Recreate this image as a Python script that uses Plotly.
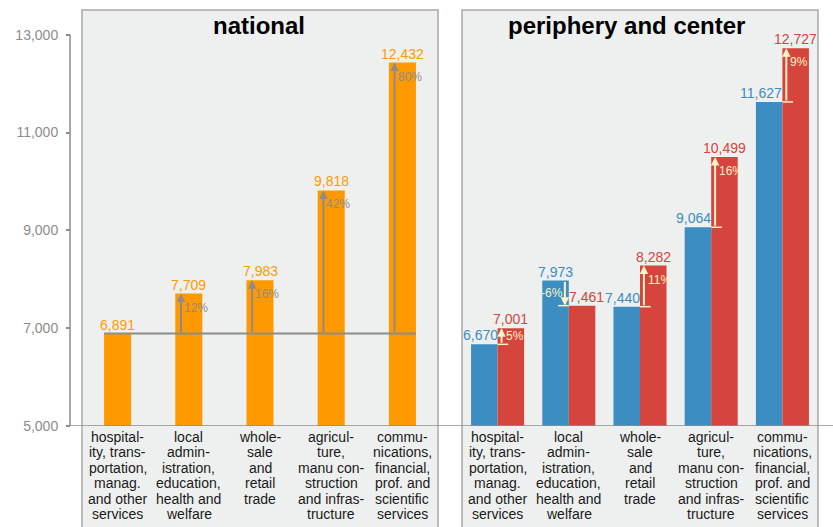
import plotly.graph_objects as go

# ---- data -------------------------------------------------------------
categories = [
    "hospitality, transportation, manag. and other services",
    "local administration, education, health and welfare",
    "wholesale and retail trade",
    "agriculture, manu construction and infrastructure",
    "communications, financial, prof. and scientific services",
]
category_lines = [
    ["hospital-", "ity, trans-", "portation,", "manag.", "and other", "services"],
    ["local", "admin-", "istration,", "education,", "health and", "welfare"],
    ["whole-", "sale", "and", "retail", "trade"],
    ["agricul-", "ture,", "manu con-", "struction", "and infras-", "tructure"],
    ["commu-", "nications,", "financial,", "prof. and", "scientific", "services"],
]
national = [6891, 7709, 7983, 9818, 12432]
periphery = [6670, 7973, 7440, 9064, 11627]
center = [7001, 7461, 8282, 10499, 12727]
y_ticks = [5000, 7000, 9000, 11000, 13000]
panel_titles = ["national", "periphery and center"]

# ---- style / layout constants ----------------------------------------
W, H = 833, 527
FONT = "Liberation Sans, Arial, sans-serif"
ORANGE = "#FF9900"
BLUE = "#3C8DC2"
RED = "#D5443D"
PANEL_BG = "#EEF0EF"
PANEL_LINE = "#A8A8A8"
AXIS_GRAY = "#8C8C8C"
CREAM = "#FFF2C4"

Y_MIN, Y_MAX = 5000, 13507
PLOT_TOP_PX, PLOT_BOTTOM_PX = 10, 426
PX_PER_UNIT = (PLOT_BOTTOM_PX - PLOT_TOP_PX) / (Y_MAX - Y_MIN)

LEFT_PANEL = (82, 438)
RIGHT_PANEL = (462, 818)
YAXIS_X = 70

NAT_WIDTH = 0.38
GROUP_GAP = 0.255
HALF = (1 - GROUP_GAP) / 4  # offset from group centre to each bar centre


def px_x(px):
    return px / W


def px_y(px):
    return (H - px) / H


fig = go.Figure()

fig.add_trace(go.Bar(
    x=categories, y=national, xaxis="x", yaxis="y",
    marker=dict(color=ORANGE, line=dict(width=0)), width=NAT_WIDTH,
    name="national", showlegend=False,
))
fig.add_trace(go.Bar(
    x=categories, y=periphery, xaxis="x2", yaxis="y",
    marker=dict(color=BLUE, line=dict(width=0)),
    name="periphery", showlegend=False,
))
fig.add_trace(go.Bar(
    x=categories, y=center, xaxis="x2", yaxis="y",
    marker=dict(color=RED, line=dict(width=0)),
    name="center", showlegend=False,
))

shapes = []
annotations = []

# panel backgrounds
for (x0, x1) in (LEFT_PANEL, RIGHT_PANEL):
    shapes.append(dict(
        type="rect", xref="paper", yref="paper",
        x0=px_x(x0), x1=px_x(x1), y0=-0.2, y1=px_y(PLOT_TOP_PX),
        fillcolor=PANEL_BG, line=dict(color=PANEL_LINE, width=1.5), layer="below",
    ))

# baseline across both panels and value-axis line
shapes.append(dict(
    type="line", xref="paper", yref="y", x0=px_x(YAXIS_X - 4), x1=1,
    y0=Y_MIN, y1=Y_MIN, line=dict(color=AXIS_GRAY, width=1.5), layer="above",
))
shapes.append(dict(
    type="line", xref="paper", yref="y", x0=px_x(YAXIS_X), x1=px_x(YAXIS_X),
    y0=y_ticks[0], y1=y_ticks[-1], line=dict(color=AXIS_GRAY, width=1.5),
))

# national: reference line at the first sector's value
base = national[0]
shapes.append(dict(
    type="line", xref="x", yref="y",
    x0=-NAT_WIDTH / 2, x1=len(categories) - 1 + NAT_WIDTH / 2,
    y0=base, y1=base, line=dict(color=AXIS_GRAY, width=2), layer="above",
))

label_font = dict(family=FONT, size=14)
pct_font = dict(family=FONT, size=12)


def pct_label_y(top, bottom):
    drop = min(14, (top - bottom) * PX_PER_UNIT / 2)
    return top - drop / PX_PER_UNIT


for i, v in enumerate(national):
    annotations.append(dict(
        x=i, y=v, xref="x", yref="y", text=f"{v:,}", showarrow=False,
        yanchor="bottom", yshift=-1, font=dict(color=ORANGE, **label_font),
    ))
    if v != base:
        ax_x = i - 0.11
        annotations.append(dict(
            x=ax_x, y=v, ax=ax_x, ay=base, xref="x", yref="y", axref="x", ayref="y",
            text="", showarrow=True, arrowhead=2, arrowsize=0.85, arrowwidth=2,
            arrowcolor=AXIS_GRAY, standoff=0, startstandoff=0,
        ))
        pct = round((v / base - 1) * 100)
        annotations.append(dict(
            x=ax_x, y=pct_label_y(v, base), xref="x", yref="y", text=f"{pct}%",
            showarrow=False, xanchor="left", yanchor="middle", xshift=1,
            font=dict(color=AXIS_GRAY, **pct_font),
        ))

# periphery vs center
for i, (p, c) in enumerate(zip(periphery, center)):
    up = c > p
    s = 1 if up else -1
    # value labels: the lower bar's label stays on its own side of the pair
    if up:
        annotations.append(dict(x=i, y=p, xref="x2", yref="y", text=f"{p:,}",
                                showarrow=False, xanchor="right", yanchor="bottom",
                                xshift=2, yshift=-1, font=dict(color=BLUE, **label_font)))
        annotations.append(dict(x=i + HALF, y=c, xref="x2", yref="y", text=f"{c:,}",
                                showarrow=False, yanchor="bottom", yshift=-1,
                                font=dict(color=RED, **label_font)))
    else:
        annotations.append(dict(x=i - HALF, y=p, xref="x2", yref="y", text=f"{p:,}",
                                showarrow=False, yanchor="bottom", yshift=-1,
                                font=dict(color=BLUE, **label_font)))
        annotations.append(dict(x=i, y=c, xref="x2", yref="y", text=f"{c:,}",
                                showarrow=False, xanchor="left", yanchor="bottom",
                                xshift=-2, yshift=-1, font=dict(color=RED, **label_font)))
    ax_x = i + s * 0.055
    annotations.append(dict(
        x=ax_x, y=c, ax=ax_x, ay=p, xref="x2", yref="y", axref="x2", ayref="y",
        text="", showarrow=True, arrowhead=2, arrowsize=0.85, arrowwidth=2,
        arrowcolor=CREAM, standoff=0, startstandoff=0,
    ))
    low = min(p, c)
    shapes.append(dict(
        type="line", xref="x2", yref="y", x0=i, x1=i + s * 0.15, y0=low, y1=low,
        line=dict(color=CREAM, width=1.5), layer="above",
    ))
    pct = round((c / p - 1) * 100)
    annotations.append(dict(
        x=ax_x, y=pct_label_y(max(p, c), low), xref="x2", yref="y", text=f"{pct}%",
        showarrow=False, xanchor="left" if up else "right", yanchor="middle",
        xshift=2 if up else 0, font=dict(color=CREAM, **pct_font),
    ))

# category labels, one line per annotation for tight line spacing
for axis in ("x", "x2"):
    for i, lines in enumerate(category_lines):
        for k, line in enumerate(lines):
            annotations.append(dict(
                x=i, y=Y_MIN, xref=axis, yref="y", text=line, showarrow=False,
                yanchor="middle", yshift=-(11 + 15.4 * k),
                font=dict(family=FONT, size=14, color="#1A1A1A"),
            ))

# panel titles
for title, cx in zip(panel_titles, (259, 626.5)):
    annotations.append(dict(
        x=px_x(cx), y=px_y(26), xref="paper", yref="paper", text=f"<b>{title}</b>",
        showarrow=False, xanchor="center", yanchor="middle",
        font=dict(family=FONT, size=24, color="#000000"),
    ))

x_common = dict(
    showgrid=False, zeroline=False, showline=False, ticks="",
    showticklabels=False, range=[-0.5, len(categories) - 0.5], anchor="y",
    fixedrange=True, automargin=False,
)

fig.update_layout(
    width=W, height=H,
    margin=dict(l=0, r=0, t=0, b=0, pad=0, autoexpand=False),
    paper_bgcolor="white", plot_bgcolor="rgba(0,0,0,0)",
    barmode="group", bargap=GROUP_GAP, bargroupgap=0,
    showlegend=False,
    font=dict(family=FONT),
    xaxis=dict(domain=[px_x(LEFT_PANEL[0]), px_x(LEFT_PANEL[1])], **x_common),
    xaxis2=dict(domain=[px_x(RIGHT_PANEL[0]), px_x(RIGHT_PANEL[1])], **x_common),
    yaxis=dict(
        domain=[px_y(PLOT_BOTTOM_PX), px_y(PLOT_TOP_PX)],
        range=[Y_MIN, Y_MAX], anchor="free", position=px_x(YAXIS_X),
        tickvals=y_ticks, ticktext=[f"{t:,}" for t in y_ticks],
        ticks="outside", ticklen=4, tickwidth=1.5, tickcolor=AXIS_GRAY,
        ticklabelstandoff=5,
        tickfont=dict(family=FONT, size=14, color=AXIS_GRAY),
        showgrid=False, zeroline=False, showline=False, fixedrange=True,
        automargin=False,
    ),
    shapes=shapes,
    annotations=annotations,
)

fig.write_html("out.html")
